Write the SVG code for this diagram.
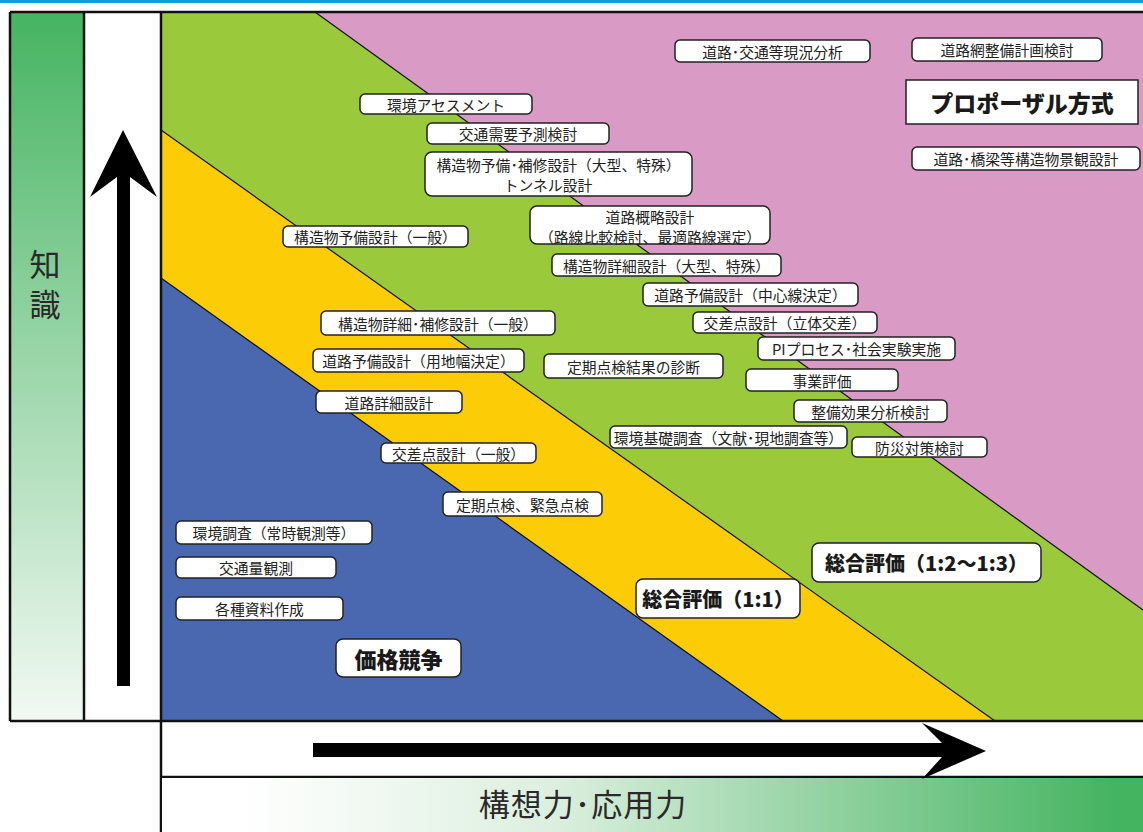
<svg xmlns="http://www.w3.org/2000/svg" width="1143" height="832" viewBox="0 0 1143 832">
<defs>
<linearGradient id="gLeft" x1="0" y1="0" x2="0" y2="1">
<stop offset="0" stop-color="#45b461"/>
<stop offset="1" stop-color="#f2f9f3"/>
</linearGradient>
<linearGradient id="gBottom" x1="0" y1="0" x2="1" y2="0">
<stop offset="0.08" stop-color="#ffffff"/>
<stop offset="0.4" stop-color="#dcefdf"/>
<stop offset="0.97" stop-color="#45b461"/>
</linearGradient>
<style>
.box{fill:#fff;stroke:#222;stroke-width:1.5}
.t{font-family:"Noto Sans CJK JP","Noto Sans",sans-serif;font-size:14.8px;fill:#222;text-anchor:middle;dominant-baseline:central}
.b{font-family:"Noto Sans CJK JP","Noto Sans",sans-serif;font-weight:900;fill:#1a1a1a;text-anchor:middle;dominant-baseline:central}
.axis{font-family:"Noto Sans CJK JP","Noto Sans",sans-serif;font-size:31px;fill:#2a2a2a}
.div{stroke:#111;stroke-width:1.2;fill:none}
</style>
</defs>
<rect x="0" y="0" width="1143" height="832" fill="#fff"/>
<rect x="0" y="0" width="1143" height="3" fill="#0aa0d6"/>

<g id="chart">
<rect x="161" y="12" width="982" height="709" fill="#d99bc6"/>
<polygon points="161,12 315,12 1143,610 1143,721 161,721" fill="#9aca3c"/>
<polygon points="161,130 995,721 161,721" fill="#fccc06"/>
<polygon points="161,278 783,721 161,721" fill="#4a68b0"/>
<line class="div" x1="315" y1="12" x2="1143" y2="610"/>
<line class="div" x1="161" y1="130" x2="995" y2="721"/>
<line class="div" x1="161" y1="278" x2="783" y2="721"/>
</g>

<g id="left-panel">
<rect x="11" y="12" width="72" height="709" fill="url(#gLeft)"/>
<rect x="85" y="12" width="76" height="709" fill="#fff"/>
<path d="M10,12 H1143 M10,12 V721 M84,12 V721 M161,12 V832 M10,721 H1143 M161,777 H1143" stroke="#111" stroke-width="2.5" fill="none"/>
<text class="axis" x="45" y="249" writing-mode="vertical-rl" letter-spacing="9">知識</text>
<polygon points="123,130 157,197 130,177 130,686 117,686 117,177 90,197" fill="#000"/>
</g>

<g id="bottom-panel">
<rect x="162" y="778" width="981" height="54" fill="url(#gBottom)"/>
<polygon points="313,743 942,743 922,723 986,751 922,779 942,757 313,757" fill="#000"/>
<text class="axis" x="583" y="802" font-size="34" letter-spacing="1" text-anchor="middle" dominant-baseline="central">構想力･応用力</text>
</g>

<g id="connectors"></g>

<g id="n1"><rect class="box" x="675" y="40" width="195" height="22" rx="5"/><text class="t" x="772.5" y="51">道路･交通等現況分析</text></g>
<g id="n2"><rect class="box" x="912" y="38" width="190" height="23" rx="5"/><text class="t" x="1007" y="49.5">道路網整備計画検討</text></g>
<g id="n3"><rect class="box" x="906" y="80" width="232" height="44"/><text class="b" x="1022" y="102" font-size="23">プロポーザル方式</text></g>
<g id="n4"><rect class="box" x="912" y="147" width="228" height="23" rx="5"/><text class="t" x="1026" y="158.5">道路･橋梁等構造物景観設計</text></g>
<g id="n5"><rect class="box" x="360" y="94" width="172" height="20" rx="5"/><text class="t" x="446" y="104">環境アセスメント</text></g>
<g id="n6"><rect class="box" x="427" y="123" width="182" height="21" rx="5"/><text class="t" x="518" y="133.5">交通需要予測検討</text></g>
<g id="n7"><rect class="box" x="425" y="152" width="267" height="44" rx="7"/><text class="t" x="558.5" y="164">構造物予備･補修設計（大型、特殊）</text><text class="t" x="548" y="184">トンネル設計</text></g>
<g id="n8"><rect class="box" x="530" y="206" width="240" height="38" rx="7"/><text class="t" x="650" y="216">道路概略設計</text><text class="t" x="650" y="236">（路線比較検討、最適路線選定）</text></g>
<g id="n9"><rect class="box" x="283" y="226" width="185" height="21" rx="5"/><text class="t" x="375.5" y="236.5">構造物予備設計（一般）</text></g>
<g id="n10"><rect class="box" x="552" y="254" width="229" height="22" rx="5"/><text class="t" x="666.5" y="265">構造物詳細設計（大型、特殊）</text></g>
<g id="n11"><rect class="box" x="643" y="283" width="215" height="23" rx="5"/><text class="t" x="750.5" y="294.5">道路予備設計（中心線決定）</text></g>
<g id="n12"><rect class="box" x="693" y="312" width="184" height="21" rx="5"/><text class="t" x="785" y="322.5">交差点設計（立体交差）</text></g>
<g id="n13"><rect class="box" x="321" y="311" width="234" height="24" rx="5"/><text class="t" x="438" y="323">構造物詳細･補修設計（一般）</text></g>
<g id="n14"><rect class="box" x="758" y="337" width="197" height="23" rx="5"/><text class="t" x="856.5" y="348.5">PIプロセス･社会実験実施</text></g>
<g id="n15"><rect class="box" x="313" y="349" width="211" height="23" rx="5"/><text class="t" x="418.5" y="360.5">道路予備設計（用地幅決定）</text></g>
<g id="n16"><rect class="box" x="544" y="354" width="179" height="24" rx="5"/><text class="t" x="633.5" y="366">定期点検結果の診断</text></g>
<g id="n17"><rect class="box" x="746" y="369" width="152" height="22" rx="5"/><text class="t" x="822" y="380">事業評価</text></g>
<g id="n18"><rect class="box" x="316" y="391" width="146" height="22" rx="5"/><text class="t" x="389" y="402">道路詳細設計</text></g>
<g id="n19"><rect class="box" x="794" y="400" width="153" height="22" rx="5"/><text class="t" x="870.5" y="411">整備効果分析検討</text></g>
<g id="n20"><rect class="box" x="610" y="426" width="237" height="22" rx="5"/><text class="t" x="728.5" y="437">環境基礎調査（文献･現地調査等）</text></g>
<g id="n21"><rect class="box" x="852" y="437" width="135" height="20" rx="5"/><text class="t" x="919.5" y="447">防災対策検討</text></g>
<g id="n22"><rect class="box" x="381" y="443" width="155" height="20" rx="5"/><text class="t" x="458.5" y="453">交差点設計（一般）</text></g>
<g id="n23"><rect class="box" x="443" y="492" width="159" height="24" rx="5"/><text class="t" x="522.5" y="504">定期点検、緊急点検</text></g>
<g id="n24"><rect class="box" x="176" y="521" width="196" height="23" rx="5"/><text class="t" x="274" y="532.5">環境調査（常時観測等）</text></g>
<g id="n25"><rect class="box" x="176" y="557" width="160" height="21" rx="5"/><text class="t" x="256" y="567.5">交通量観測</text></g>
<g id="n26"><rect class="box" x="176" y="597" width="167" height="23" rx="5"/><text class="t" x="259.5" y="608.5">各種資料作成</text></g>
<g id="n27"><rect class="box" x="336" y="639" width="125" height="38" rx="7"/><text class="b" x="398.5" y="658" font-size="22">価格競争</text></g>
<g id="n28"><rect class="box" x="636" y="579" width="164" height="39" rx="7"/><text class="b" x="718" y="598.5" font-size="20">総合評価（1:1）</text></g>
<g id="n29"><rect class="box" x="812" y="543" width="229" height="39" rx="7"/><text class="b" x="926.5" y="562.5" font-size="20">総合評価（1:2〜1:3）</text></g>
</svg>
